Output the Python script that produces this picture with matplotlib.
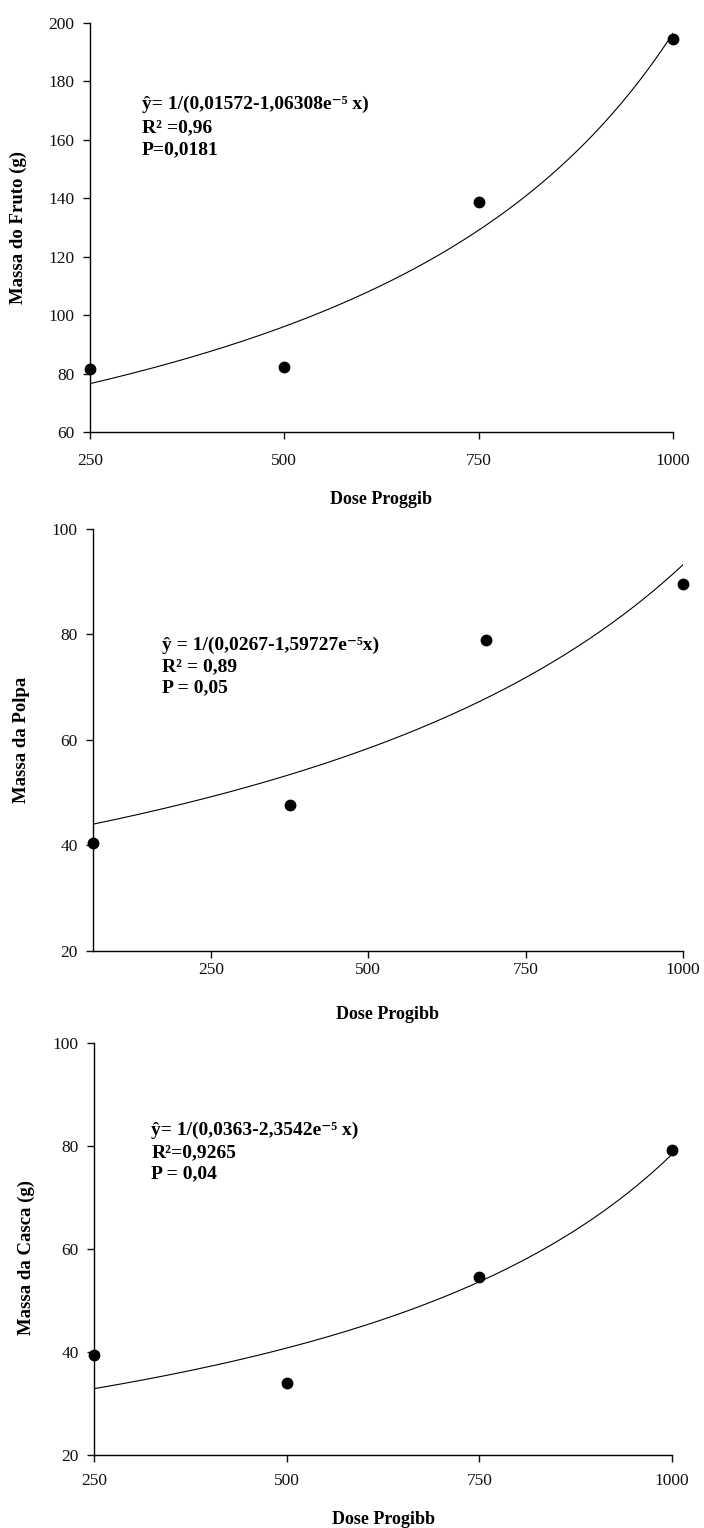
import numpy as np
import matplotlib.pyplot as plt

plt.rcParams['font.family'] = ['Liberation Serif', 'DejaVu Serif']

# dados
dose = [250, 500, 750, 1000]
fruto = [81.7, 82.3, 138.7, 194.6]

polpa_x = [62.5, 375, 687.5, 1000]
polpa = [40.5, 47.6, 79.0, 89.5]

casca = [39.4, 34.0, 54.6, 79.2]

# coeficientes y = 1/(a - b*x)
coef_fruto = (0.01572, 1.06308e-5)
coef_polpa = (0.0267, 1.59727e-5)
coef_casca = (0.0363, 2.3542e-5)

eq_fruto = ["ŷ= 1/(0,01572-1,06308e⁻⁵ x)", "R² =0,96", "P=0,0181"]
eq_polpa = ["ŷ = 1/(0,0267-1,59727e⁻⁵x)", "R² = 0,89", "P = 0,05"]
eq_casca = ["ŷ= 1/(0,0363-2,3542e⁻⁵ x)", "R²=0,9265", "P = 0,04"]

W, H = 704, 1528
fig = plt.figure(figsize=(W / 100, H / 100), dpi=100)


def novo_eixo(l, r, t, b):
    ax = fig.add_axes([l / W, 1 - b / H, (r - l) / W, (b - t) / H])
    for s in ['top', 'right']:
        ax.spines[s].set_visible(False)
    for s in ['left', 'bottom']:
        ax.spines[s].set_linewidth(1.0)
    ax.tick_params(direction='out', length=5, width=1.0, labelsize=12.5,
                   colors='#111111')
    ax.tick_params(axis='y', pad=6)
    return ax


def texto(ax, linhas, x, ys):
    for linha, y in zip(linhas, ys):
        ax.text(x, y, linha, transform=ax.transAxes, fontsize=14,
                fontweight='bold', va='center', ha='left')


# ---- Massa do Fruto
ax1 = novo_eixo(90, 673, 23, 432)
xs = np.linspace(250, 1000, 200)
ax1.plot(xs, 1 / (coef_fruto[0] - coef_fruto[1] * xs), color='black', lw=0.8)
ax1.plot(dose, fruto, 'o', color='black', ms=7.5, clip_on=False)
ax1.set_xlim(250, 1000)
ax1.set_ylim(60, 200)
ax1.set_xticks([250, 500, 750, 1000])
ax1.set_yticks(np.arange(60, 201, 20))
ax1.tick_params(axis='x', pad=10)
ax1.set_xlabel("Dose Proggib", fontsize=13, fontweight='bold')
ax1.set_ylabel("Massa do Fruto (g)", fontsize=13.5, fontweight='bold')
ax1.xaxis.set_label_coords(0.5, -0.145)
ax1.yaxis.set_label_coords(-0.108, 0.5)
texto(ax1, eq_fruto, 0.089, [0.80, 0.743, 0.689])

# ---- Massa da Polpa
ax2 = novo_eixo(93, 683, 529, 951)
xs = np.linspace(62.5, 1000, 200)
xf = 250 + 0.8 * (xs - 62.5)
ax2.plot(xs, 1 / (coef_polpa[0] - coef_polpa[1] * xf), color='black', lw=0.8)
ax2.plot(polpa_x, polpa, 'o', color='black', ms=7.5, clip_on=False)
ax2.set_xlim(62.5, 1000)
ax2.set_ylim(20, 100)
ax2.set_xticks([250, 500, 750, 1000])
ax2.set_yticks(np.arange(20, 101, 20))
ax2.tick_params(axis='x', pad=3)
ax2.set_xlabel("Dose Progibb", fontsize=13, fontweight='bold')
ax2.set_ylabel("Massa da Polpa", fontsize=13.5, fontweight='bold')
ax2.xaxis.set_label_coords(0.5, -0.13)
ax2.yaxis.set_label_coords(-0.107, 0.5)
texto(ax2, eq_polpa, 0.117, [0.725, 0.673, 0.623])

# ---- Massa da Casca
ax3 = novo_eixo(94, 672, 1043, 1455)
xs = np.linspace(250, 1000, 200)
ax3.plot(xs, 1 / (coef_casca[0] - coef_casca[1] * xs), color='black', lw=0.8)
ax3.plot(dose, casca, 'o', color='black', ms=7.5, clip_on=False)
ax3.set_xlim(250, 1000)
ax3.set_ylim(20, 100)
ax3.set_xticks([250, 500, 750, 1000])
ax3.set_yticks(np.arange(20, 101, 20))
ax3.tick_params(axis='x', pad=8)
ax3.set_xlabel("Dose Progibb", fontsize=13, fontweight='bold')
ax3.set_ylabel("Massa da Casca (g)", fontsize=13.5, fontweight='bold')
ax3.xaxis.set_label_coords(0.5, -0.135)
ax3.yaxis.set_label_coords(-0.102, 0.48)
texto(ax3, eq_casca, 0.099, [0.789, 0.734, 0.682])

fig.savefig("out.png", dpi=100)
